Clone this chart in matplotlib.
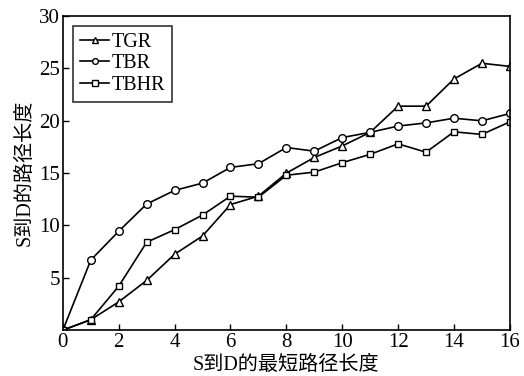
import matplotlib
matplotlib.use('Agg')
import matplotlib.pyplot as plt

plt.rcParams['font.family'] = ['Liberation Serif', 'Noto Sans CJK SC']

hops = list(range(17))
tgr = [0, 1.0, 2.7, 4.75, 7.25, 9.0, 12.0, 12.8, 15.0, 16.5, 17.6, 18.9, 21.4, 21.4, 24.0, 25.5, 25.2]
tbr = [0, 6.7, 9.45, 12.05, 13.35, 14.05, 15.55, 15.9, 17.45, 17.1, 18.4, 18.9, 19.5, 19.8, 20.25, 20.0, 20.7]
tbhr = [0, 1.0, 4.2, 8.4, 9.6, 11.0, 12.8, 12.7, 14.8, 15.1, 16.0, 16.8, 17.8, 17.0, 18.95, 18.7, 19.9]

xticks = [0, 2, 4, 6, 8, 10, 12, 14, 16]
yticks = [5, 10, 15, 20, 25, 30]

fig = plt.figure(figsize=(5.24, 3.76), dpi=100)
ax = fig.add_axes([0.120, 0.122, 0.853, 0.835])

style = dict(color='black', linewidth=1.2, markersize=5.5,
             markerfacecolor='white', markeredgecolor='black', markeredgewidth=1.0)
ax.plot(hops, tgr, marker='^', label='TGR', **style)
ax.plot(hops, tbr, marker='o', label='TBR', **style)
ax.plot(hops, tbhr, marker='s', label='TBHR', **dict(style, markersize=5))

ax.set_xlim(0, 16)
ax.set_ylim(0, 30)
ax.set_xticks(xticks)
ax.set_yticks(yticks)
ax.tick_params(direction='in', length=4, width=1, labelsize=15, pad=2)
for s in ax.spines.values():
    s.set_linewidth(1.2)

ax.set_xlabel('S到D的最短路径长度', fontsize=14.5, labelpad=3)
ax.set_ylabel('S到D的路径长度', fontsize=14.5, labelpad=3)

leg = ax.legend(loc='upper left', fontsize=14.5, frameon=True, fancybox=False,
                edgecolor='black', handlelength=1.45, handletextpad=0.1,
                borderpad=0.35, labelspacing=0.1, borderaxespad=0.5,
                markerscale=0.75)
leg.get_frame().set_linewidth(1.2)

fig.savefig('out.png', dpi=100)
